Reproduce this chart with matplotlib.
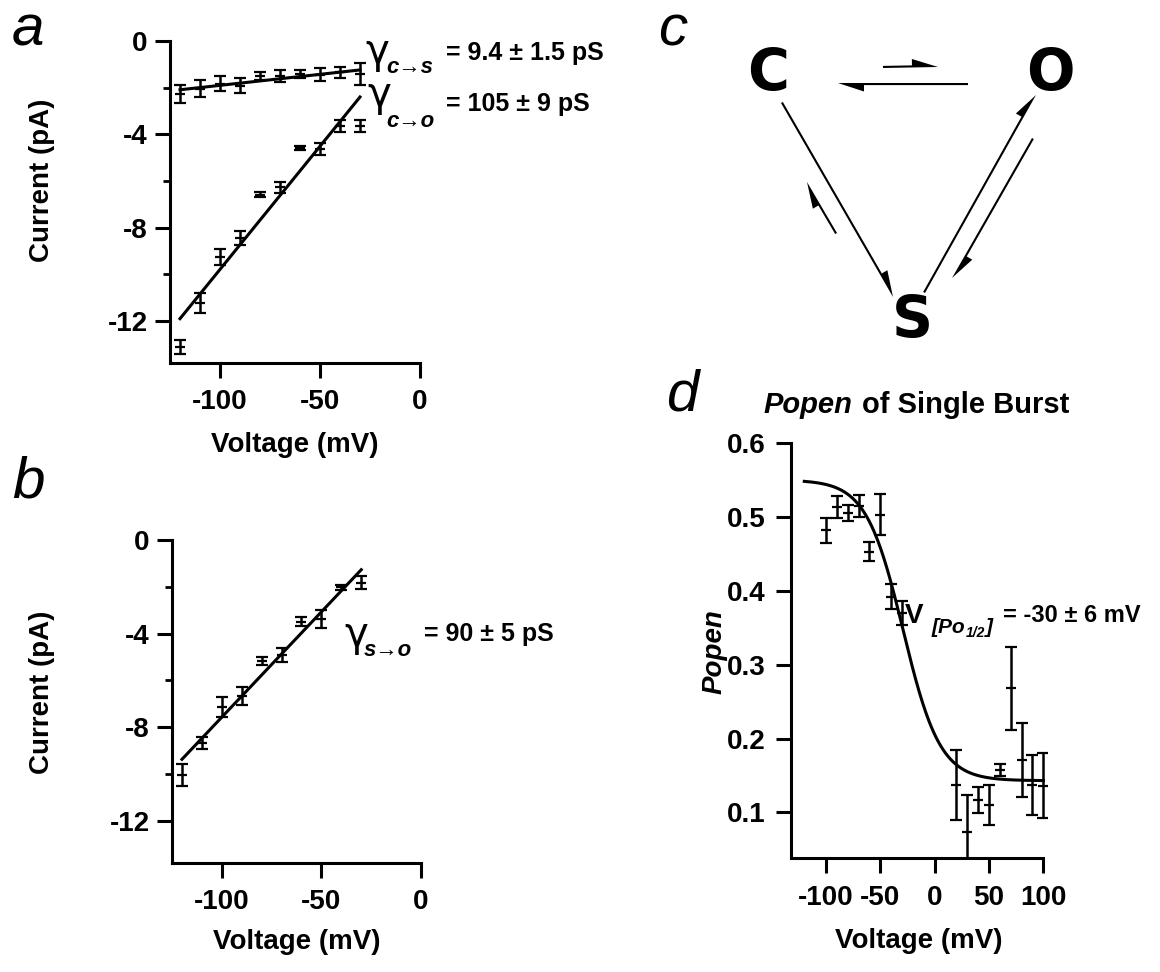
import numpy as np
import matplotlib.pyplot as plt
from matplotlib.patches import FancyArrow

W, H = 1160, 972

# panel a: I-V relations, closed->sub and closed->open
volt_ab = [-120, -110, -100, -90, -80, -70, -60, -50, -40, -30]
cs_current = [-2.27, -2.04, -1.84, -1.92, -1.52, -1.50, -1.42, -1.45, -1.35, -1.42]
cs_err = [0.39, 0.37, 0.32, 0.32, 0.17, 0.24, 0.18, 0.28, 0.25, 0.46]
co_current = [-13.1, -11.21, -9.27, -8.45, -6.59, -6.27, -4.60, -4.62, -3.64, -3.64]
co_err = [0.3, 0.43, 0.34, 0.31, 0.11, 0.24, 0.09, 0.25, 0.26, 0.26]
cs_fit_v = [-120, -30]
cs_fit_i = [-2.09, -1.24]
co_fit_v = [-120, -30]
co_fit_i = [-11.9, -2.4]

# panel b: sub -> open
so_current = [-10.04, -8.66, -7.12, -6.67, -5.17, -4.93, -3.49, -3.38, -2.02, -1.82]
so_err = [0.46, 0.25, 0.43, 0.37, 0.18, 0.3, 0.18, 0.4, 0.1, 0.27]
so_fit_v = [-120, -30]
so_fit_i = [-9.37, -1.27]

# panel d: Popen of single bursts
volt_d = [-100, -90, -80, -70, -60, -50, -40, -30, 20, 30, 40, 50, 60, 70, 80, 90, 100]
popen = [0.482, 0.513, 0.505, 0.515, 0.453, 0.503, 0.392, 0.370, 0.137, 0.074,
         0.117, 0.110, 0.158, 0.268, 0.171, 0.137, 0.136]
popen_err = [0.017, 0.015, 0.011, 0.015, 0.013, 0.028, 0.017, 0.016, 0.047, 0.05,
             0.018, 0.027, 0.008, 0.056, 0.05, 0.041, 0.044]
# Boltzmann fit parameters
p_max, p_min, v_half, slope_k = 0.55, 0.143, -29.0, 17.0

iv_yticks = [0, -4, -8, -12]
iv_yminor = [-2, -6, -10]
iv_xticks = [-100, -50, 0]
d_xticks = [-100, -50, 0, 50, 100]
d_yticks = [0.1, 0.2, 0.3, 0.4, 0.5, 0.6]

# kinetic scheme (pixel positions)
states = {'C': (768, 75), 'O': (1050, 75), 'S': (912, 321)}
arrows = [  # tail x, tail y, head x, head y
    (968, 83, 838, 83),
    (883, 68, 938, 67),
    (781, 103, 893, 297),
    (837, 233, 807, 182),
    (925, 293, 1036, 95),
    (1032, 138, 952, 278),
]

plt.rcParams['font.family'] = ['Liberation Sans', 'DejaVu Sans']
plt.rcParams['font.weight'] = 'bold'
plt.rcParams['axes.unicode_minus'] = False

fig = plt.figure(figsize=(W / 100, H / 100), dpi=100)
fig.patch.set_facecolor('white')


def px_axes(left, top, right, bottom):
    return fig.add_axes([left / W, 1 - bottom / H, (right - left) / W, (bottom - top) / H])


def put(x, y, s, **kw):
    kw.setdefault('va', 'baseline')
    kw.setdefault('ha', 'left')
    fig.text(x / W, 1 - y / H, s, **kw)


def style(ax):
    for side in ['top', 'right']:
        ax.spines[side].set_visible(False)
    for side in ['left', 'bottom']:
        ax.spines[side].set_linewidth(2.2)
    ax.tick_params(which='major', length=11, width=2.2, labelsize=20, color='black')
    ax.tick_params(which='minor', length=5, width=2.0)
    ax.tick_params(axis='x', pad=8)
    ax.tick_params(axis='y', pad=5)
    for lab in ax.get_xticklabels() + ax.get_yticklabels():
        lab.set_fontweight('bold')


def bars(ax, x, y, e):
    ax.errorbar(x, y, yerr=e, fmt='_', color='black', ms=7, mew=1.6,
                elinewidth=1.8, capsize=4.5, capthick=1.8)


def iv_axes(ax):
    ax.set_xlim(-125, 0)
    ax.set_ylim(-13.8, 0)
    ax.set_xticks(iv_xticks)
    ax.set_yticks(iv_yticks)
    ax.set_yticks(iv_yminor, minor=True)
    ax.set_xticklabels([str(v) for v in iv_xticks])
    ax.set_yticklabels([str(v) for v in iv_yticks])
    ax.set_xlabel('Voltage (mV)', fontsize=20, fontweight='bold', va='top')
    ax.set_ylabel('Current (pA)', fontsize=20, fontweight='bold')
    style(ax)


# ---- panel a
ax_a = px_axes(170, 41, 420, 363)
bars(ax_a, volt_ab, cs_current, cs_err)
bars(ax_a, volt_ab, co_current, co_err)
ax_a.plot(cs_fit_v, cs_fit_i, color='black', lw=2.2)
ax_a.plot(co_fit_v, co_fit_i, color='black', lw=2.2)
iv_axes(ax_a)
ax_a.xaxis.set_label_coords(0.5, -0.214)
ax_a.yaxis.set_label_coords(-0.46, 0.568)

# ---- panel b
ax_b = px_axes(172, 540, 421, 863)
bars(ax_b, volt_ab, so_current, so_err)
ax_b.plot(so_fit_v, so_fit_i, color='black', lw=2.2)
iv_axes(ax_b)
ax_b.xaxis.set_label_coords(0.5, -0.205)
ax_b.yaxis.set_label_coords(-0.47, 0.529)

# ---- panel d
ax_d = px_axes(790.7, 443, 1046.6, 858.3)
v_fit = np.linspace(-120, 100, 300)
p_fit = p_min + (p_max - p_min) / (1 + np.exp((v_fit - v_half) / slope_k))
ax_d.plot(v_fit, p_fit, color='black', lw=2.2)
bars(ax_d, volt_d, popen, popen_err)
ax_d.set_xlim(-132.5, 103)
ax_d.set_ylim(0.038, 0.6)
ax_d.set_xticks(d_xticks)
ax_d.set_xticklabels([str(v) for v in d_xticks])
ax_d.set_yticks(d_yticks)
ax_d.set_yticklabels(['%.1f' % v for v in d_yticks])
style(ax_d)
ax_d.spines['bottom'].set_bounds(-132.5, 100)
ax_d.tick_params(axis='y', pad=7)
ax_d.set_xlabel('Voltage (mV)', fontsize=20, fontweight='bold', va='top')
ax_d.set_ylabel('Popen', fontsize=20, fontweight='bold', style='italic')
ax_d.xaxis.set_label_coords(0.5, -0.168)
ax_d.yaxis.set_label_coords(-0.245, 0.497)
put(852, 413, 'Popen', ha='right', fontsize=21, style='italic')
put(862, 413, 'of Single Burst', fontsize=21)

# ---- annotations
gam = dict(fontsize=29, fontweight='normal', family='DejaVu Sans')
sub = dict(fontsize=16, style='italic', family=['Liberation Sans', 'DejaVu Sans'])
put(365, 63, 'γ', **gam)
put(386, 73, 'c→s', **sub)
put(446, 60, '= 9.4 ± 1.5 pS', fontsize=18)
put(367, 106, 'γ', **gam)
put(386, 127, 'c→o', **sub)
put(446, 111, '= 105 ± 9 pS', fontsize=18)
put(344, 646, 'γ', **gam)
put(364, 656, 's→o', **sub)
put(424, 641, '= 90 ± 5 pS', fontsize=18)
put(905, 623, 'V', fontsize=20)
put(932, 633, '[Po', fontsize=15, style='italic')
put(966, 637, '1/2', fontsize=10, style='italic')
put(986, 633, ']', fontsize=15, style='italic')
put(1003, 622, '= -30 ± 6 mV', fontsize=17)

# panel letters
for letter, (x, y) in {'a': (12, 46), 'b': (12, 497), 'c': (658, 46), 'd': (666, 410)}.items():
    put(x, y, letter, fontsize=42, fontweight='normal', style='italic')

# ---- panel c: kinetic scheme
ax_c = fig.add_axes([0, 0, 1, 1])
ax_c.set_xlim(0, W)
ax_c.set_ylim(0, H)
ax_c.axis('off')
for name, (x, y) in states.items():
    ax_c.text(x, H - y, name, fontsize=41, fontweight='bold', family='DejaVu Sans',
              ha='center', va='center')
for x0, y0, x1, y1 in arrows:
    ax_c.add_patch(FancyArrow(x0, H - y0, x1 - x0, y0 - y1, width=4.2, head_width=17,
                              head_length=26, length_includes_head=True, shape='right',
                              color='black', lw=0))

fig.savefig('out.png', dpi=100)
